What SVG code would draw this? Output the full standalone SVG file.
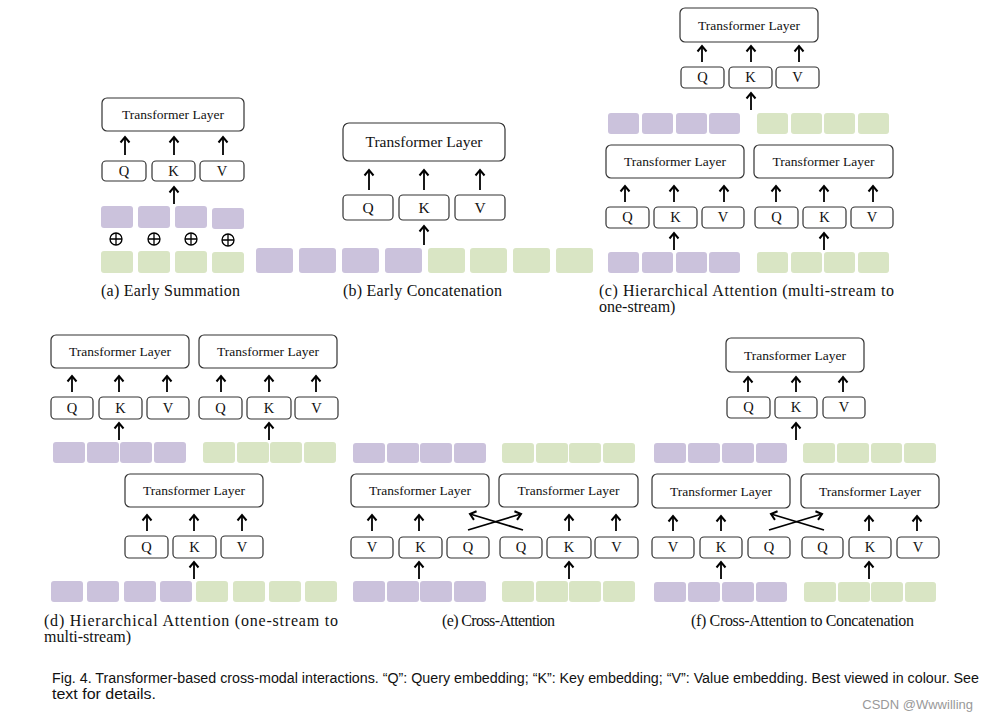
<svg xmlns="http://www.w3.org/2000/svg" width="990" height="721" viewBox="0 0 990 721">
<style>
.tl{fill:#fff;stroke:#333;stroke-width:1.2}
.qkv{fill:#fff;stroke:#333;stroke-width:1.2}
.p{fill:#CBC2DC}
.g{fill:#D9E5C4}
.t{font-family:"Liberation Serif",serif;fill:#111;text-anchor:middle}
.t13{font-size:13.5px}
.t15{font-size:15.5px}
.l{font-size:14.5px}
.cap{font-family:"Liberation Serif",serif;font-size:16px;fill:#111}
.fig{font-family:"Liberation Sans",Arial,sans-serif;font-size:14px;fill:#111}
.a{stroke:#000;stroke-width:1.8;fill:none;marker-end:url(#ah)}
.op{fill:none;stroke:#000;stroke-width:1.3}
</style>
<defs>
<marker id="ah" viewBox="-8 -6 10 12" refX="0" refY="0" markerWidth="10" markerHeight="12" orient="auto" markerUnits="userSpaceOnUse">
<path d="M-5.5,-4.5 L0,0 L-5.5,4.5" fill="none" stroke="#000" stroke-width="2"/>
</marker>
</defs>
<rect width="990" height="721" fill="#fff"/>

<!-- Panel (a) -->
<g id="a-tl"><rect class="tl" x="102" y="98" width="142" height="33" rx="5"/><text class="t t13" x="173" y="119">Transformer Layer</text></g>
<g id="a-q"><rect class="qkv" x="102" y="161" width="44" height="20" rx="4"/><text class="t l" x="124" y="176">Q</text></g>
<g id="a-k"><rect class="qkv" x="152" y="161" width="43" height="20" rx="4"/><text class="t l" x="173.5" y="176">K</text></g>
<g id="a-v"><rect class="qkv" x="200" y="161" width="44" height="20" rx="4"/><text class="t l" x="222" y="176">V</text></g>
<g id="a-purple"><rect class="p" x="101" y="206" width="32" height="22" rx="3"/><rect class="p" x="138" y="206" width="32" height="22" rx="3"/><rect class="p" x="175" y="206" width="32" height="22" rx="3"/><rect class="p" x="212" y="208" width="32" height="21" rx="3"/></g>
<g id="a-sum">
<circle class="op" cx="116" cy="239" r="6"/><path class="op" d="M110,239H122M116,233V245"/>
<circle class="op" cx="154" cy="239" r="6"/><path class="op" d="M148,239H160M154,233V245"/>
<circle class="op" cx="191" cy="239" r="6"/><path class="op" d="M185,239H197M191,233V245"/>
<circle class="op" cx="228" cy="240" r="6"/><path class="op" d="M222,240H234M228,234V246"/>
</g>
<g id="a-green"><rect class="g" x="101" y="251" width="32" height="22" rx="3"/><rect class="g" x="138" y="251" width="32" height="22" rx="3"/><rect class="g" x="175" y="251" width="32" height="22" rx="3"/><rect class="g" x="212" y="252" width="32" height="21" rx="3"/></g>
<text id="a-cap" class="cap" x="101" y="296" textLength="139" lengthAdjust="spacing">(a) Early Summation</text>

<!-- Panel (b) -->
<g id="b-tl"><rect class="tl" x="343" y="123" width="162" height="38" rx="6"/><text class="t t15" x="424" y="147">Transformer Layer</text></g>
<g id="b-q"><rect class="qkv" x="343" y="195" width="50" height="25" rx="4"/><text class="t t15" x="368" y="213">Q</text></g>
<g id="b-k"><rect class="qkv" x="399" y="195" width="50" height="25" rx="4"/><text class="t t15" x="424" y="213">K</text></g>
<g id="b-v"><rect class="qkv" x="455" y="195" width="50" height="25" rx="4"/><text class="t t15" x="480" y="213">V</text></g>
<g id="b-seq"><rect class="p" x="256" y="248" width="37" height="25" rx="3"/><rect class="p" x="299" y="248" width="37" height="25" rx="3"/><rect class="p" x="342" y="248" width="37" height="25" rx="3"/><rect class="p" x="385" y="248" width="37" height="25" rx="3"/><rect class="g" x="428" y="248" width="37" height="25" rx="3"/><rect class="g" x="470" y="248" width="37" height="25" rx="3"/><rect class="g" x="513" y="248" width="37" height="25" rx="3"/><rect class="g" x="556" y="248" width="37" height="25" rx="3"/></g>
<text id="b-cap" class="cap" x="343" y="296" textLength="159" lengthAdjust="spacing">(b) Early Concatenation</text>

<!-- Panel (c) -->
<g id="c-tl"><rect class="tl" x="680" y="8" width="138" height="34" rx="5"/><text class="t t13" x="749" y="30">Transformer Layer</text></g>
<g id="c-q"><rect class="qkv" x="681" y="67" width="43" height="21" rx="4"/><text class="t l" x="702.5" y="82">Q</text></g>
<g id="c-k"><rect class="qkv" x="729" y="67" width="43" height="21" rx="4"/><text class="t l" x="750.5" y="82">K</text></g>
<g id="c-v"><rect class="qkv" x="776" y="67" width="43" height="21" rx="4"/><text class="t l" x="797.5" y="82">V</text></g>
<g id="c-mid-purple"><rect class="p" x="608" y="113" width="31" height="21" rx="3"/><rect class="p" x="642" y="113" width="31" height="21" rx="3"/><rect class="p" x="676" y="113" width="31" height="21" rx="3"/><rect class="p" x="709" y="113" width="31" height="21" rx="3"/></g>
<g id="c-mid-green"><rect class="g" x="757" y="113" width="31" height="21" rx="3"/><rect class="g" x="791" y="113" width="31" height="21" rx="3"/><rect class="g" x="824" y="113" width="31" height="21" rx="3"/><rect class="g" x="858" y="113" width="31" height="21" rx="3"/></g>
<g id="c-tl-l"><rect class="tl" x="606" y="145" width="138" height="33" rx="5"/><text class="t t13" x="675" y="166">Transformer Layer</text></g>
<g id="c-tl-r"><rect class="tl" x="754" y="145" width="139" height="33" rx="5"/><text class="t t13" x="823.5" y="166">Transformer Layer</text></g>
<g id="c-q-l"><rect class="qkv" x="606" y="207" width="43" height="21" rx="4"/><text class="t l" x="627.5" y="222">Q</text></g>
<g id="c-k-l"><rect class="qkv" x="654" y="207" width="43" height="21" rx="4"/><text class="t l" x="675.5" y="222">K</text></g>
<g id="c-v-l"><rect class="qkv" x="702" y="207" width="42" height="21" rx="4"/><text class="t l" x="723" y="222">V</text></g>
<g id="c-q-r"><rect class="qkv" x="755" y="207" width="43" height="21" rx="4"/><text class="t l" x="776.5" y="222">Q</text></g>
<g id="c-k-r"><rect class="qkv" x="803" y="207" width="43" height="21" rx="4"/><text class="t l" x="824.5" y="222">K</text></g>
<g id="c-v-r"><rect class="qkv" x="851" y="207" width="42" height="21" rx="4"/><text class="t l" x="872" y="222">V</text></g>
<g id="c-bot-purple"><rect class="p" x="608" y="252" width="31" height="21" rx="3"/><rect class="p" x="642" y="252" width="31" height="21" rx="3"/><rect class="p" x="676" y="252" width="31" height="21" rx="3"/><rect class="p" x="709" y="252" width="31" height="21" rx="3"/></g>
<g id="c-bot-green"><rect class="g" x="757" y="252" width="31" height="21" rx="3"/><rect class="g" x="791" y="252" width="31" height="21" rx="3"/><rect class="g" x="824" y="252" width="31" height="21" rx="3"/><rect class="g" x="858" y="252" width="31" height="21" rx="3"/></g>
<text id="c-cap1" class="cap" x="599" y="296" textLength="295" lengthAdjust="spacing">(c) Hierarchical Attention (multi-stream to</text>
<text id="c-cap2" class="cap" x="599" y="312">one-stream)</text>

<!-- Panel (d) -->
<g id="d-tl-l"><rect class="tl" x="51" y="335" width="138" height="33" rx="5"/><text class="t t13" x="120" y="356">Transformer Layer</text></g>
<g id="d-tl-r"><rect class="tl" x="199" y="335" width="138" height="33" rx="5"/><text class="t t13" x="268" y="356">Transformer Layer</text></g>
<g id="d-q-l"><rect class="qkv" x="51" y="397" width="42" height="22" rx="4"/><text class="t l" x="72" y="413">Q</text></g>
<g id="d-k-l"><rect class="qkv" x="99" y="397" width="43" height="22" rx="4"/><text class="t l" x="120.5" y="413">K</text></g>
<g id="d-v-l"><rect class="qkv" x="147" y="397" width="42" height="22" rx="4"/><text class="t l" x="168" y="413">V</text></g>
<g id="d-q-r"><rect class="qkv" x="199" y="397" width="43" height="22" rx="4"/><text class="t l" x="220.5" y="413">Q</text></g>
<g id="d-k-r"><rect class="qkv" x="247" y="397" width="44" height="22" rx="4"/><text class="t l" x="269" y="413">K</text></g>
<g id="d-v-r"><rect class="qkv" x="295" y="397" width="43" height="22" rx="4"/><text class="t l" x="316.5" y="413">V</text></g>
<g id="d-mid-purple"><rect class="p" x="53" y="442" width="32" height="21" rx="3"/><rect class="p" x="87" y="442" width="32" height="21" rx="3"/><rect class="p" x="120" y="442" width="32" height="21" rx="3"/><rect class="p" x="154" y="442" width="32" height="21" rx="3"/></g>
<g id="d-mid-green"><rect class="g" x="203" y="442" width="32" height="21" rx="3"/><rect class="g" x="237" y="442" width="32" height="21" rx="3"/><rect class="g" x="270" y="442" width="32" height="21" rx="3"/><rect class="g" x="304" y="442" width="32" height="21" rx="3"/></g>
<g id="d-tl-m"><rect class="tl" x="125" y="474" width="138" height="33" rx="5"/><text class="t t13" x="194" y="495">Transformer Layer</text></g>
<g id="d-q-m"><rect class="qkv" x="125" y="536" width="43" height="22" rx="4"/><text class="t l" x="146.5" y="552">Q</text></g>
<g id="d-k-m"><rect class="qkv" x="173" y="536" width="43" height="22" rx="4"/><text class="t l" x="194.5" y="552">K</text></g>
<g id="d-v-m"><rect class="qkv" x="221" y="536" width="42" height="22" rx="4"/><text class="t l" x="242" y="552">V</text></g>
<g id="d-seq"><rect class="p" x="51" y="581" width="32" height="21" rx="3"/><rect class="p" x="87" y="581" width="32" height="21" rx="3"/><rect class="p" x="124" y="581" width="32" height="21" rx="3"/><rect class="p" x="160" y="581" width="32" height="21" rx="3"/><rect class="g" x="196" y="581" width="32" height="21" rx="3"/><rect class="g" x="233" y="581" width="32" height="21" rx="3"/><rect class="g" x="269" y="581" width="32" height="21" rx="3"/><rect class="g" x="305" y="581" width="32" height="21" rx="3"/></g>
<text id="d-cap1" class="cap" x="44" y="626" textLength="294" lengthAdjust="spacing">(d) Hierarchical Attention (one-stream to</text>
<text id="d-cap2" class="cap" x="44" y="642">multi-stream)</text>

<!-- Panel (e) -->
<g id="e-top-purple"><rect class="p" x="353" y="443" width="32" height="20" rx="3"/><rect class="p" x="387" y="443" width="32" height="20" rx="3"/><rect class="p" x="420" y="443" width="32" height="20" rx="3"/><rect class="p" x="454" y="443" width="32" height="20" rx="3"/></g>
<g id="e-top-green"><rect class="g" x="502" y="443" width="32" height="20" rx="3"/><rect class="g" x="536" y="443" width="32" height="20" rx="3"/><rect class="g" x="569" y="443" width="32" height="20" rx="3"/><rect class="g" x="603" y="443" width="32" height="20" rx="3"/></g>
<g id="e-tl-l"><rect class="tl" x="351" y="474" width="138" height="33" rx="5"/><text class="t t13" x="420" y="495">Transformer Layer</text></g>
<g id="e-tl-r"><rect class="tl" x="499" y="474" width="139" height="33" rx="5"/><text class="t t13" x="568.5" y="495">Transformer Layer</text></g>
<g id="e-v-l"><rect class="qkv" x="351" y="537" width="42" height="21" rx="4"/><text class="t l" x="372" y="552">V</text></g>
<g id="e-k-l"><rect class="qkv" x="399" y="537" width="43" height="21" rx="4"/><text class="t l" x="420.5" y="552">K</text></g>
<g id="e-q-l"><rect class="qkv" x="447" y="537" width="42" height="21" rx="4"/><text class="t l" x="468" y="552">Q</text></g>
<g id="e-q-r"><rect class="qkv" x="500" y="537" width="42" height="21" rx="4"/><text class="t l" x="521" y="552">Q</text></g>
<g id="e-k-r"><rect class="qkv" x="547" y="537" width="44" height="21" rx="4"/><text class="t l" x="569" y="552">K</text></g>
<g id="e-v-r"><rect class="qkv" x="595" y="537" width="43" height="21" rx="4"/><text class="t l" x="616.5" y="552">V</text></g>
<g id="e-bot-purple"><rect class="p" x="353" y="581" width="32" height="21" rx="3"/><rect class="p" x="387" y="581" width="32" height="21" rx="3"/><rect class="p" x="420" y="581" width="32" height="21" rx="3"/><rect class="p" x="454" y="581" width="32" height="21" rx="3"/></g>
<g id="e-bot-green"><rect class="g" x="502" y="581" width="32" height="21" rx="3"/><rect class="g" x="536" y="581" width="32" height="21" rx="3"/><rect class="g" x="569" y="581" width="32" height="21" rx="3"/><rect class="g" x="603" y="581" width="32" height="21" rx="3"/></g>
<text id="e-cap" class="cap" x="442" y="626" textLength="113" lengthAdjust="spacing">(e) Cross-Attention</text>

<!-- Panel (f) -->
<g id="f-tl"><rect class="tl" x="726" y="338" width="138" height="34" rx="5"/><text class="t t13" x="795" y="360">Transformer Layer</text></g>
<g id="f-q"><rect class="qkv" x="727" y="397" width="43" height="21" rx="4"/><text class="t l" x="748.5" y="412">Q</text></g>
<g id="f-k"><rect class="qkv" x="775" y="397" width="42" height="21" rx="4"/><text class="t l" x="796" y="412">K</text></g>
<g id="f-v"><rect class="qkv" x="823" y="397" width="42" height="21" rx="4"/><text class="t l" x="844" y="412">V</text></g>
<g id="f-mid-purple"><rect class="p" x="654" y="443" width="32" height="20" rx="3"/><rect class="p" x="688" y="443" width="32" height="20" rx="3"/><rect class="p" x="722" y="443" width="32" height="20" rx="3"/><rect class="p" x="756" y="443" width="31" height="20" rx="3"/></g>
<g id="f-mid-green"><rect class="g" x="803" y="443" width="32" height="20" rx="3"/><rect class="g" x="837" y="443" width="32" height="20" rx="3"/><rect class="g" x="871" y="443" width="31" height="20" rx="3"/><rect class="g" x="904" y="443" width="32" height="20" rx="3"/></g>
<g id="f-tl-l"><rect class="tl" x="652" y="474" width="138" height="34" rx="5"/><text class="t t13" x="721" y="496">Transformer Layer</text></g>
<g id="f-tl-r"><rect class="tl" x="801" y="474" width="138" height="34" rx="5"/><text class="t t13" x="870" y="496">Transformer Layer</text></g>
<g id="f-v-l"><rect class="qkv" x="652" y="537" width="42" height="21" rx="4"/><text class="t l" x="673" y="552">V</text></g>
<g id="f-k-l"><rect class="qkv" x="700" y="537" width="42" height="21" rx="4"/><text class="t l" x="721" y="552">K</text></g>
<g id="f-q-l"><rect class="qkv" x="748" y="537" width="42" height="21" rx="4"/><text class="t l" x="769" y="552">Q</text></g>
<g id="f-q-r"><rect class="qkv" x="802" y="537" width="41" height="21" rx="4"/><text class="t l" x="822.5" y="552">Q</text></g>
<g id="f-k-r"><rect class="qkv" x="849" y="537" width="42" height="21" rx="4"/><text class="t l" x="870" y="552">K</text></g>
<g id="f-v-r"><rect class="qkv" x="897" y="537" width="42" height="21" rx="4"/><text class="t l" x="918" y="552">V</text></g>
<g id="f-bot-purple"><rect class="p" x="654" y="582" width="32" height="20" rx="3"/><rect class="p" x="688" y="582" width="32" height="20" rx="3"/><rect class="p" x="722" y="582" width="32" height="20" rx="3"/><rect class="p" x="756" y="582" width="31" height="20" rx="3"/></g>
<g id="f-bot-green"><rect class="g" x="804" y="582" width="32" height="20" rx="3"/><rect class="g" x="838" y="582" width="32" height="20" rx="3"/><rect class="g" x="871" y="582" width="32" height="20" rx="3"/><rect class="g" x="905" y="582" width="31" height="20" rx="3"/></g>
<text id="f-cap" class="cap" x="691" y="626" textLength="223" lengthAdjust="spacing">(f) Cross-Attention to Concatenation</text>

<!-- Connectors -->
<g id="connectors">
<line class="a" x1="125" y1="155" x2="125" y2="137"/><line class="a" x1="174" y1="155" x2="174" y2="137"/><line class="a" x1="223" y1="155" x2="223" y2="137"/>
<line class="a" x1="174" y1="204" x2="174" y2="187"/>
<line class="a" x1="369" y1="190" x2="369" y2="170"/><line class="a" x1="424" y1="190" x2="424" y2="170"/><line class="a" x1="480" y1="190" x2="480" y2="170"/>
<line class="a" x1="424" y1="245" x2="424" y2="226"/>
<line class="a" x1="702" y1="62" x2="702" y2="46"/><line class="a" x1="751" y1="62" x2="751" y2="46"/><line class="a" x1="799" y1="62" x2="799" y2="46"/>
<line class="a" x1="751" y1="110" x2="751" y2="93"/>
<line class="a" x1="625" y1="202" x2="625" y2="186"/><line class="a" x1="674" y1="202" x2="674" y2="186"/><line class="a" x1="724" y1="202" x2="724" y2="186"/>
<line class="a" x1="776" y1="202" x2="776" y2="186"/><line class="a" x1="824" y1="202" x2="824" y2="186"/><line class="a" x1="873" y1="202" x2="873" y2="186"/>
<line class="a" x1="674" y1="250" x2="674" y2="233"/><line class="a" x1="824" y1="250" x2="824" y2="233"/>
<line class="a" x1="72" y1="392" x2="72" y2="376"/><line class="a" x1="119" y1="392" x2="119" y2="376"/><line class="a" x1="167" y1="392" x2="167" y2="376"/>
<line class="a" x1="221" y1="392" x2="221" y2="376"/><line class="a" x1="269" y1="392" x2="269" y2="376"/><line class="a" x1="316" y1="392" x2="316" y2="376"/>
<line class="a" x1="119" y1="440" x2="119" y2="423"/><line class="a" x1="269" y1="440" x2="269" y2="423"/>
<line class="a" x1="147" y1="531" x2="147" y2="515"/><line class="a" x1="194" y1="531" x2="194" y2="515"/><line class="a" x1="242" y1="531" x2="242" y2="515"/>
<line class="a" x1="194" y1="579" x2="194" y2="562"/>
<line class="a" x1="372" y1="531" x2="372" y2="515"/><line class="a" x1="419" y1="531" x2="419" y2="515"/>
<line class="a" x1="569" y1="531" x2="569" y2="515"/><line class="a" x1="616" y1="531" x2="616" y2="515"/>
<line class="a" x1="468" y1="530" x2="521" y2="514"/><line class="a" x1="523" y1="530" x2="470" y2="514"/>
<line class="a" x1="419" y1="579" x2="419" y2="562"/><line class="a" x1="569" y1="579" x2="569" y2="562"/>
<line class="a" x1="748" y1="392" x2="748" y2="377"/><line class="a" x1="796" y1="392" x2="796" y2="377"/><line class="a" x1="843" y1="392" x2="843" y2="377"/>
<line class="a" x1="796" y1="440" x2="796" y2="423"/>
<line class="a" x1="673" y1="531" x2="673" y2="516"/><line class="a" x1="721" y1="531" x2="721" y2="516"/>
<line class="a" x1="869" y1="531" x2="869" y2="516"/><line class="a" x1="917" y1="531" x2="917" y2="516"/>
<line class="a" x1="769" y1="530" x2="822" y2="514"/><line class="a" x1="824" y1="530" x2="771" y2="514"/>
<line class="a" x1="721" y1="579" x2="721" y2="562"/><line class="a" x1="869" y1="579" x2="869" y2="562"/>
</g>

<!-- Figure caption -->
<text class="fig" x="52" y="683" textLength="927" lengthAdjust="spacingAndGlyphs">Fig. 4. Transformer-based cross-modal interactions. “Q”: Query embedding; “K”: Key embedding; “V”: Value embedding. Best viewed in colour. See</text>
<text class="fig" x="52" y="699" textLength="104" lengthAdjust="spacingAndGlyphs">text for details.</text>
<text x="973" y="709" text-anchor="end" font-family="Liberation Sans,Arial,sans-serif" font-size="13" fill="#999">CSDN @Wwwilling</text>
</svg>
